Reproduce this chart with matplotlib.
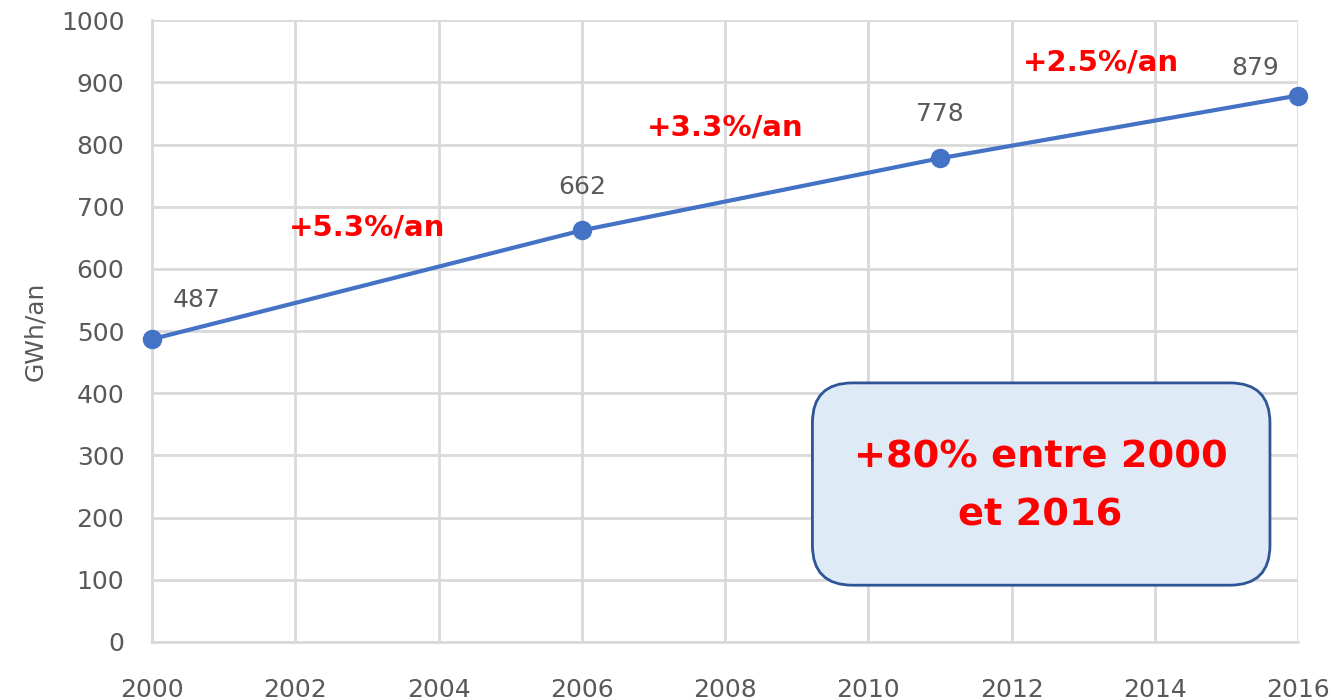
import matplotlib.pyplot as plt
from matplotlib.patches import FancyBboxPatch

# data
years = [2000, 2006, 2011, 2016]
gwh = [487, 662, 778, 879]
point_labels = ["487", "662", "778", "879"]
# offsets of the value labels (points)
label_offsets = [(32, 28), (0, 31), (0, 32), (-31, 20)]

rate_labels = ["+5.3%/an", "+3.3%/an", "+2.5%/an"]
rate_x = [2003.0, 2008.0, 2013.25]
rate_y = [666, 828, 932]

box_text = "+80% entre 2000\net 2016"

fig = plt.figure(figsize=(13.34, 7), dpi=100)
ax = fig.add_axes([0.114, 0.083, 0.859, 0.888])

grid_col = "#d9d9d9"
txt_col = "#595959"

ax.plot(years, gwh, color="#4472c4", lw=3, marker="o", ms=13,
        zorder=5, clip_on=False)

for x, y, lab, off in zip(years, gwh, point_labels, label_offsets):
    ax.annotate(lab, (x, y), xytext=off, textcoords="offset points",
                ha="center", va="center", fontsize=18, color=txt_col)

for x, y, lab in zip(rate_x, rate_y, rate_labels):
    ax.text(x, y, lab, ha="center", va="center", fontsize=21,
            fontweight="bold", color="#ff0000")

ax.set_xlim(2000, 2016)
ax.set_ylim(0, 1000)
ax.set_xticks(range(2000, 2017, 2))
ax.set_yticks(range(0, 1001, 100))
ax.grid(True, color=grid_col, lw=2)
ax.set_axisbelow(True)
for s in ["top", "right"]:
    ax.spines[s].set_visible(False)
for s in ["left", "bottom"]:
    ax.spines[s].set_color(grid_col)
    ax.spines[s].set_linewidth(2)
ax.tick_params(axis="both", length=0, labelsize=18, labelcolor=txt_col)
ax.tick_params(axis="y", pad=20)
ax.tick_params(axis="x", pad=26)
ax.set_ylabel("GWh/an", fontsize=18, color=txt_col, labelpad=10)

# summary box
box = FancyBboxPatch((0.609, 0.164), 0.343, 0.289,
                     boxstyle="round,pad=0,rounding_size=0.03",
                     transform=fig.transFigure, facecolor="#deeaf6",
                     edgecolor="#2f5597", lw=2, zorder=6,
                     mutation_aspect=1334 / 700)
fig.patches.append(box)
fig.text(0.780, 0.305, box_text, ha="center", va="center", fontsize=27.5,
         fontweight="bold", color="#ff0000", linespacing=1.75, zorder=7)

fig.savefig("out.png", dpi=100)
